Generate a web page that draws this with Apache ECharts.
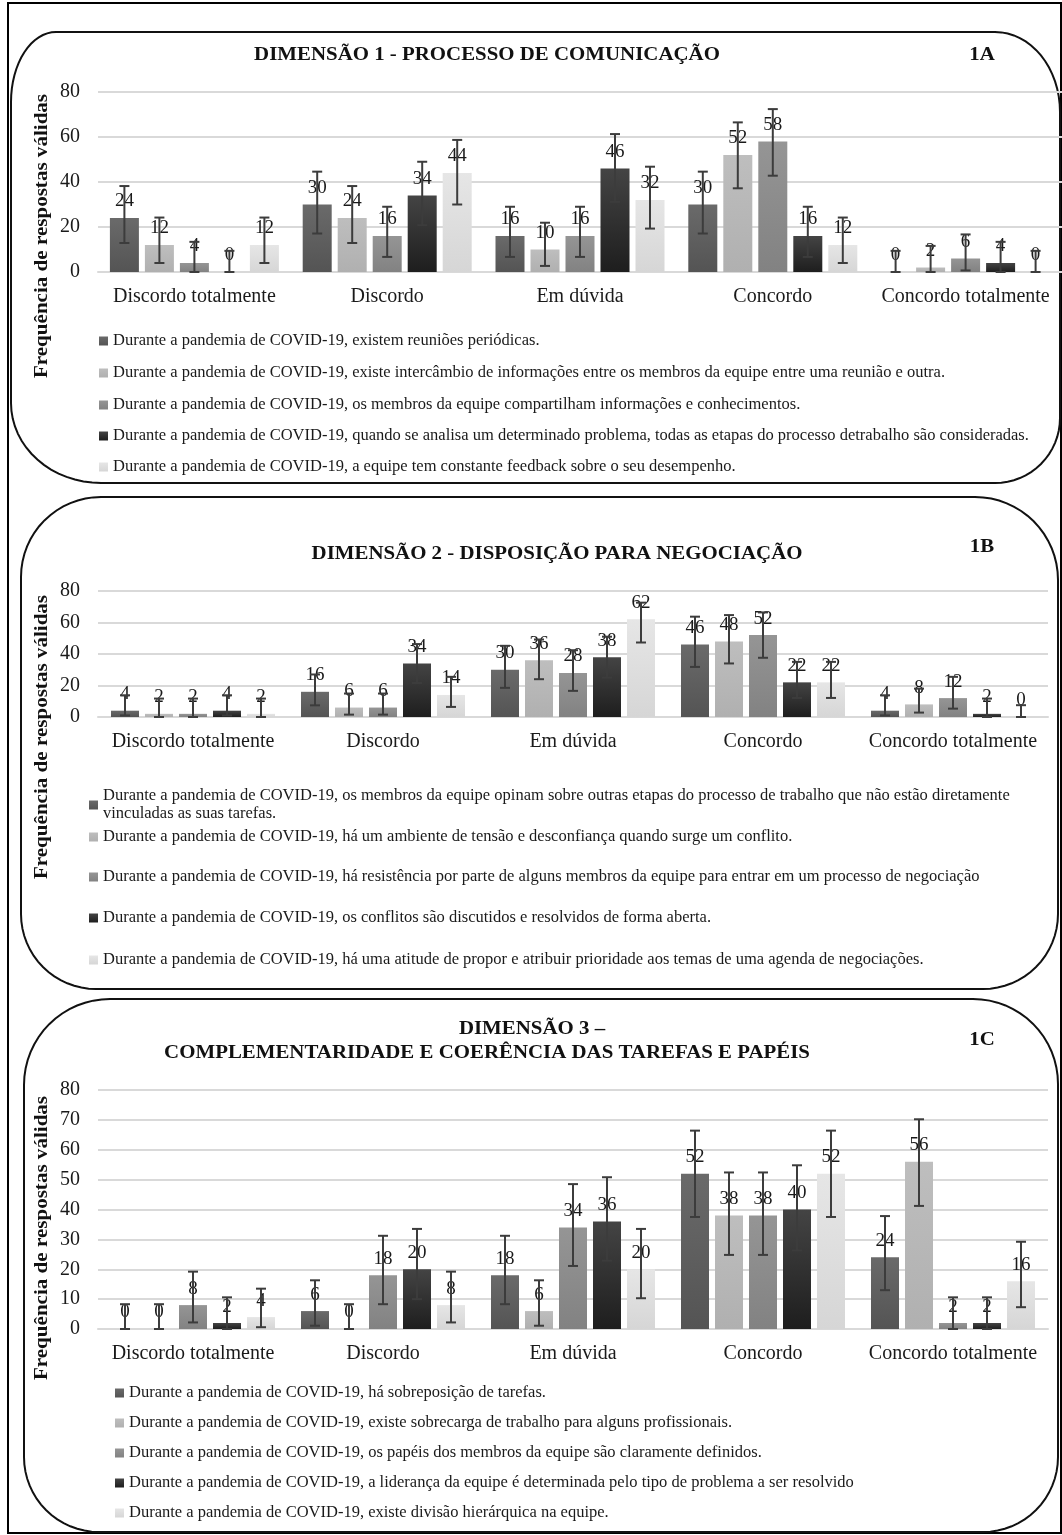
<!DOCTYPE html>
<html>
<head>
<meta charset="utf-8">
<script src="https://cdn.jsdelivr.net/npm/echarts@6/dist/echarts.min.js"></script>
<style>
  html, body { margin: 0; padding: 0; background: #fff; }
  #main { width: 1062px; height: 1535px; }
</style>
</head>
<body>
<div id="main"></div>
<script>
const categories = ['Discordo totalmente', 'Discordo', 'Em dúvida', 'Concordo', 'Concordo totalmente']

// Dimensão 1 - processo de comunicação
const dim1Names = [
    'Durante a pandemia de COVID-19, existem reuniões periódicas.',
    'Durante a pandemia de COVID-19, existe intercâmbio de informações entre os membros da equipe entre uma reunião e outra.',
    'Durante a pandemia de COVID-19, os membros da equipe compartilham informações e conhecimentos.',
    'Durante a pandemia de COVID-19, quando se analisa um determinado problema, todas as etapas do processo detrabalho são consideradas.',
    'Durante a pandemia de COVID-19, a equipe tem constante feedback sobre o seu desempenho.'
]
const dim1Values = [
    [24, 30, 16, 30, 0],
    [12, 24, 10, 52, 2],
    [4, 16, 16, 58, 6],
    [0, 34, 46, 16, 4],
    [12, 44, 32, 12, 0]
]
const dim1Low = [
    [12.9, 17.1, 6.7, 17.1, 0],
    [4, 12.9, 2.7, 37.2, 0],
    [0, 6.7, 6.7, 42.8, 0.7],
    [0, 20.8, 31.2, 6.7, 0],
    [4, 30, 19.3, 4, 0]
]
const dim1High = [
    [38.2, 44.6, 29, 44.6, 9.4],
    [24.2, 38.2, 21.9, 66.5, 11.6],
    [13.4, 29, 29, 72.4, 16.7],
    [9.4, 49, 61.3, 29, 13.4],
    [24.2, 58.7, 46.8, 24.2, 9.4]
]

// Dimensão 2 - disposição para negociação
const dim2Names = [
    'Durante a pandemia de COVID-19, os membros da equipe opinam sobre outras etapas do processo de trabalho que não estão diretamente vinculadas as suas tarefas.',
    'Durante a pandemia de COVID-19, há um ambiente de tensão e desconfiança quando surge um conflito.',
    'Durante a pandemia de COVID-19, há resistência por parte de alguns membros da equipe para entrar em um processo de negociação',
    'Durante a pandemia de COVID-19, os conflitos são discutidos e resolvidos de forma aberta.',
    'Durante a pandemia de COVID-19, há uma atitude de propor e atribuir prioridade aos temas de uma agenda de negociações.'
]
const dim2Values = [
    [4, 16, 30, 46, 4],
    [2, 6, 36, 48, 8],
    [2, 6, 28, 52, 12],
    [4, 34, 38, 22, 2],
    [2, 14, 62, 22, 0]
]
const dim2Low = [
    [1, 7.4, 18.5, 31.8, 1],
    [0, 1.5, 24, 34, 2.8],
    [0, 1.5, 16.6, 37.6, 5.3],
    [1, 21.6, 25, 12.1, 0],
    [0, 6.4, 47.3, 12.1, 0]
]
const dim2High = [
    [13.8, 27, 45.2, 63.7, 13.8],
    [11.7, 14.9, 49.2, 64.7, 18],
    [11.7, 14.9, 42.4, 66.4, 25.5],
    [13.8, 46.3, 51, 35, 11.7],
    [11.7, 25.5, 72.6, 35, 7.5]
]

// Dimensão 3 - complementaridade e coerência das tarefas e papéis
const dim3Names = [
    'Durante a pandemia de COVID-19, há sobreposição de tarefas.',
    'Durante a pandemia de COVID-19, existe sobrecarga de trabalho para alguns profissionais.',
    'Durante a pandemia de COVID-19, os papéis dos membros da equipe são claramente definidos.',
    'Durante a pandemia de COVID-19, a liderança da equipe é determinada pelo tipo de problema a ser resolvido',
    'Durante a pandemia de COVID-19, existe divisão hierárquica na equipe.'
]
const dim3Values = [
    [0, 6, 18, 52, 24],
    [0, 0, 6, 38, 56],
    [8, 18, 34, 38, 2],
    [2, 20, 36, 40, 2],
    [4, 8, 20, 52, 16]
]
const dim3Low = [
    [0, 1.1, 8.3, 37.5, 13],
    [0, 0, 1.1, 24.8, 41.2],
    [2.2, 8.3, 21.1, 24.8, 0],
    [0, 10, 22.9, 26.3, 0],
    [0.6, 2.2, 10.3, 37.5, 7.3]
]
const dim3High = [
    [8.3, 16.3, 31.2, 66.4, 37.8],
    [8.3, 8.3, 16.3, 52.4, 70.2],
    [19.2, 31.2, 48.5, 52.4, 10.6],
    [10.6, 33.5, 50.8, 54.8, 10.6],
    [13.5, 19.2, 33.5, 66.4, 29.2]
]

const FONT = '"Liberation Serif", "Times New Roman", serif'
const barColors = [
    ['#6a6a6a', '#545454'],
    ['#bebebe', '#b0b0b0'],
    ['#959595', '#828282'],
    ['#444444', '#1e1e1e'],
    ['#e6e6e6', '#d6d6d6']
]

function grad(pair) {
    return new echarts.graphic.LinearGradient(0, 0, 0, 1, [
        { offset: 0, color: pair[0] },
        { offset: 1, color: pair[1] }
    ])
}

// painel: grid, eixos, barras e barras de erro
const panels = [
    { names: dim1Names, values: dim1Values, low: dim1Low, high: dim1High,
      grid: { left: 98, top: 92, width: 970, height: 180 }, interval: 20, barWidth: 29, gap: 6 },
    { names: dim2Names, values: dim2Values, low: dim2Low, high: dim2High,
      grid: { left: 98, top: 591, width: 950, height: 126 }, interval: 20, barWidth: 28, gap: 6 },
    { names: dim3Names, values: dim3Values, low: dim3Low, high: dim3High,
      grid: { left: 98, top: 1090, width: 950, height: 239 }, interval: 10, barWidth: 28, gap: 6 }
]

const grids = [], xAxes = [], yAxes = [], series = []
panels.forEach(function (p, gi) {
    grids.push(Object.assign({ containLabel: false }, p.grid))
    xAxes.push({
        type: 'category', gridIndex: gi, data: categories,
        axisLine: { lineStyle: { color: '#d9d9d9', width: 2 } },
        axisTick: { show: false },
        axisLabel: { color: '#1a1a1a', fontSize: 20, fontFamily: FONT, margin: 15, interval: 0 }
    })
    yAxes.push({
        type: 'value', gridIndex: gi, min: 0, max: 80, interval: p.interval,
        axisLine: { show: false }, axisTick: { show: false },
        splitLine: { lineStyle: { color: '#d9d9d9', width: 2 } },
        axisLabel: { color: '#1a1a1a', fontSize: 20, fontFamily: FONT, margin: 18 }
    })
    const pitch = p.barWidth + p.gap
    p.names.forEach(function (name, si) {
        series.push({
            type: 'bar', name: name, xAxisIndex: gi, yAxisIndex: gi,
            data: p.values[si], barWidth: p.barWidth,
            barGap: (p.gap / p.barWidth * 100) + '%',
            itemStyle: { color: grad(barColors[si]) },
            label: { show: true, position: 'top', distance: 7, color: '#1a1a1a', fontSize: 19, fontFamily: FONT },
            z: 2
        })
        series.push({
            type: 'custom', name: name + ' (erro)', xAxisIndex: gi, yAxisIndex: gi,
            data: p.values[si].map(function (v, ci) { return [ci, p.low[si][ci], p.high[si][ci]] }),
            z: 5, silent: true,
            renderItem: function (params, api) {
                const lo = api.coord([api.value(0), api.value(1)])
                const hi = api.coord([api.value(0), api.value(2)])
                const x = lo[0] + (si - 2) * pitch
                const cap = 5
                const st = { stroke: '#3c3c3c', lineWidth: 2 }
                return {
                    type: 'group',
                    children: [
                        { type: 'line', shape: { x1: x, y1: lo[1], x2: x, y2: hi[1] }, style: st },
                        { type: 'line', shape: { x1: x - cap, y1: hi[1], x2: x + cap, y2: hi[1] }, style: st },
                        { type: 'line', shape: { x1: x - cap, y1: lo[1], x2: x + cap, y2: lo[1] }, style: st }
                    ]
                }
            }
        })
    })
})

// legendas: um item por componente para controlar o espaçamento
const legendPos = [
    { left: 99, ys: [341, 373, 405, 436, 467] },
    { left: 89, ys: [796, 837, 877, 918, 960] },
    { left: 115, ys: [1393, 1423, 1453, 1483, 1513] }
]
const legends = []
panels.forEach(function (p, gi) {
    p.names.forEach(function (name, si) {
        const lg = {
            left: legendPos[gi].left, top: legendPos[gi].ys[si] - 9, padding: 0,
            orient: 'vertical', icon: 'rect', itemWidth: 9, itemHeight: 9,
            selectedMode: false, data: [name],
            textStyle: { color: '#1a1a1a', fontSize: 16.5, fontFamily: FONT, lineHeight: 18 }
        }
        if (name.length > 140) {
            lg.formatter = function (n) { return n.replace('diretamente ', 'diretamente\n') }
        }
        legends.push(lg)
    })
})

// moldura arredondada (cantos elípticos) como polígono
function boxPoints(x, y, w, h, c) {
    const r = x + w, b = y + h
    const pts = []
    const corner = function (cx, cy, rx, ry, a0) {
        for (let k = 0; k <= 16; k++) {
            const a = a0 + (k / 16) * Math.PI / 2
            pts.push([cx + rx * Math.cos(a), cy + ry * Math.sin(a)])
        }
    }
    corner(r - c[1][0], y + c[1][1], c[1][0], c[1][1], -Math.PI / 2)
    corner(r - c[2][0], b - c[2][1], c[2][0], c[2][1], 0)
    corner(x + c[3][0], b - c[3][1], c[3][0], c[3][1], Math.PI / 2)
    corner(x + c[0][0], y + c[0][1], c[0][0], c[0][1], Math.PI)
    return pts
}

const frameStyle = { fill: null, stroke: '#111', lineWidth: 2 }
const titleFont = 'bold 18px ' + FONT
const axisNameFont = 'bold 18px ' + FONT

function frame(x, y, w, h, c) {
    return { type: 'polygon', shape: { points: boxPoints(x, y, w, h, c) }, style: frameStyle, silent: true }
}
function label(text, x, y) {
    return { type: 'text', x: x, y: y, scaleX: 1.16, style: { text: text, x: 0, y: 0, textAlign: 'center', textVerticalAlign: 'middle', font: titleFont, fill: '#111' } }
}
function axisName(y) {
    return { type: 'text', x: 42, y: y, rotation: Math.PI / 2, scaleX: 1.17, style: { text: 'Frequência de respostas válidas', x: 0, y: 0, textAlign: 'center', textVerticalAlign: 'middle', font: axisNameFont, fill: '#111' } }
}

const graphics = [
    { type: 'rect', shape: { x: 8, y: 3, width: 1053, height: 1530 }, style: { fill: null, stroke: '#000', lineWidth: 2 }, silent: true },
    frame(11, 32, 1049, 451, [[45, 70], [65, 80], [65, 65], [90, 80]]),
    frame(21, 497, 1037, 492, [[80, 80], [83, 83], [75, 75], [75, 75]]),
    frame(24, 999, 1034, 533, [[86, 86], [85, 85], [75, 75], [75, 75]]),

    label('DIMENSÃO 1 - PROCESSO DE COMUNICAÇÃO', 487, 55),
    label('1A', 982, 55),
    label('DIMENSÃO 2 - DISPOSIÇÃO PARA NEGOCIAÇÃO', 557, 554),
    label('1B', 982, 547),
    label('DIMENSÃO 3 –', 532, 1029),
    label('COMPLEMENTARIDADE E COERÊNCIA DAS TAREFAS E PAPÉIS', 487, 1053),
    label('1C', 982, 1040),

    axisName(236),
    axisName(737),
    axisName(1238)
]

const myChart = echarts.init(document.getElementById('main'), null, { renderer: 'canvas' })
myChart.setOption({
    animation: false,
    backgroundColor: '#fff',
    grid: grids,
    xAxis: xAxes,
    yAxis: yAxes,
    legend: legends,
    graphic: graphics,
    series: series
})
</script>
</body>
</html>
